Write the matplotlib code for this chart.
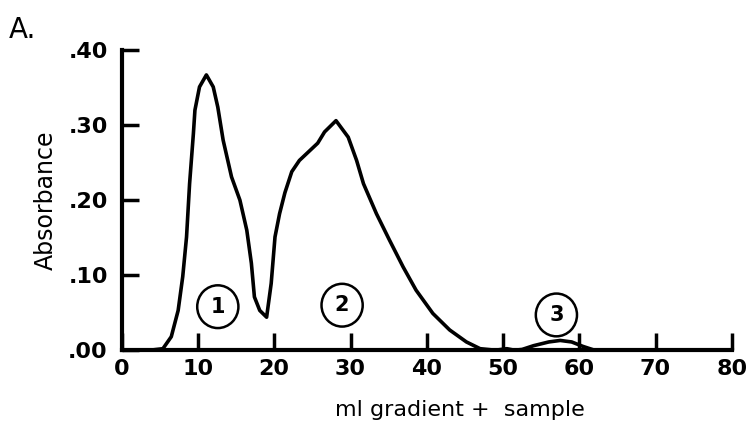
import numpy as np
import matplotlib.pyplot as plt
from matplotlib.patches import Ellipse

# elution profile: ml gradient + sample vs absorbance
ml = [0, 3.7, 5.4, 6.5, 7.4, 8.0, 8.5, 8.9, 9.4, 9.6, 10.2, 11.1, 12.0, 12.6,
      13.3, 14.4, 15.5, 16.4, 17.0, 17.4, 18.1, 19.0, 19.6, 20.1, 20.7, 21.4,
      22.3, 23.3, 25.7, 26.6, 28.1, 29.7, 30.8, 31.7, 33.4, 35.1, 36.9, 38.6,
      40.8, 43.0, 45.2, 47.0, 49.0, 50.5, 51.5, 52.5, 54, 56, 57.5, 59, 60.5,
      62, 80]
absorbance = [0, 0, 0.002, 0.018, 0.053, 0.098, 0.151, 0.222, 0.289, 0.320,
              0.351, 0.367, 0.351, 0.324, 0.280, 0.231, 0.200, 0.160, 0.116,
              0.071, 0.053, 0.044, 0.089, 0.151, 0.182, 0.210, 0.238, 0.253,
              0.276, 0.291, 0.306, 0.284, 0.253, 0.222, 0.182, 0.147, 0.111,
              0.080, 0.049, 0.027, 0.011, 0.002, 0.0, 0.002, 0.0, 0.001, 0.006,
              0.011, 0.013, 0.011, 0.005, 0.0, 0.0]

x_ticks = [0, 10, 20, 30, 40, 50, 60, 70, 80]
y_ticks = [0.0, 0.1, 0.2, 0.3, 0.4]
y_labels = ['.00', '.10', '.20', '.30', '.40']

peak_labels = ['1', '2', '3']
peak_x = [12.6, 28.9, 57.0]
peak_y = [0.058, 0.060, 0.047]

fig = plt.figure(figsize=(7.56, 4.25), dpi=100)
ax = fig.add_axes([0.161, 0.176, 0.807, 0.706])

ax.plot(ml, absorbance, color='black', lw=2.6, solid_joinstyle='round',
        solid_capstyle='round', clip_on=False)

for lab, px, py in zip(peak_labels, peak_x, peak_y):
    ax.add_patch(Ellipse((px, py), 5.4, 0.057, fill=False, ec='black', lw=1.8))
    ax.text(px, py, lab, ha='center', va='center', fontsize=15,
            fontweight='bold')

ax.set_xlim(0, 80)
ax.set_ylim(0, 0.40)
ax.spines['top'].set_visible(False)
ax.spines['right'].set_visible(False)
ax.spines['left'].set_linewidth(3)
ax.spines['bottom'].set_linewidth(3)
ax.set_xticks(x_ticks)
ax.set_xticklabels([str(t) for t in x_ticks], fontsize=16, fontweight='bold')
ax.set_yticks(y_ticks)
ax.set_yticklabels(y_labels, fontsize=16, fontweight='bold')
ax.tick_params(direction='in', length=12, width=2.5, pad=6)
ax.tick_params(axis='y', pad=10)

ax.set_ylabel('Absorbance', fontsize=17)
ax.yaxis.set_label_coords(-0.105, 0.5)
ax.set_xlabel('ml gradient +  sample', fontsize=16)
ax.xaxis.set_label_coords(0.554, -0.165)

fig.text(0.012, 0.93, 'A.', fontsize=20, ha='left', va='center')

fig.savefig('out.png', dpi=100)
